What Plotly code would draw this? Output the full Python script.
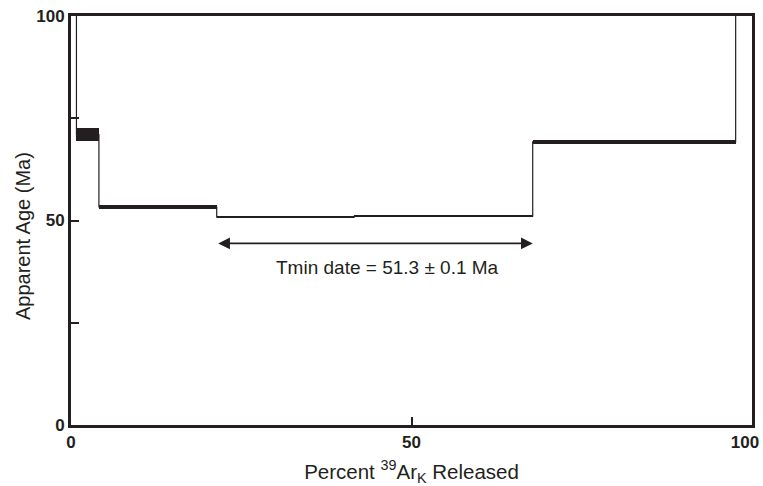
import plotly.graph_objects as go

# Age spectrum data (cumulative % 39ArK released, apparent age, 1-sigma error)
step_start = [0.0, 0.8, 4.1, 21.4, 41.6, 67.8, 97.6]
step_end = [0.8, 4.1, 21.4, 41.6, 67.8, 97.6, 100.0]
ages = [130.0, 71.0, 53.3, 50.8, 51.1, 69.2, 130.0]
errors = [1.0, 1.6, 0.5, 0.25, 0.3, 0.45, 1.0]

x_ticks = [0, 50, 100]
x_ticktext = ["0", "50", "100\u00a0\u00a0\u00a0"]
y_ticks = [0, 25, 50, 75, 100]
y_ticktext = ["0", "", "50", "", "100"]

tmin_from, tmin_to = 21.4, 67.8
tmin_y = 44.4
tmin_label = "Tmin date = 51.3 \u00b1 0.1 Ma"

ink = "#231f20"
font = "Liberation Sans, Arial, Helvetica, sans-serif"

mids = [(a + b) / 2 for a, b in zip(step_start, step_end)]
widths = [b - a for a, b in zip(step_start, step_end)]
bases = [a - e for a, e in zip(ages, errors)]
heights = [2 * e for e in errors]

fig = go.Figure()
# connecting step line
fig.add_trace(go.Scatter(
    x=step_start + [step_end[-1]],
    y=ages + [ages[-1]],
    mode="lines",
    line=dict(shape="hv", color=ink, width=1.2),
    hoverinfo="skip",
    showlegend=False,
))
# error boxes
fig.add_trace(go.Bar(
    x=mids, y=heights, base=bases, width=widths,
    marker=dict(color=ink, line=dict(width=0)),
    showlegend=False,
))

# double-headed arrow
fig.add_annotation(
    x=tmin_to, y=tmin_y, ax=tmin_from, ay=tmin_y,
    xref="x", yref="y", axref="x", ayref="y",
    text="", showarrow=True, arrowhead=2, startarrowhead=2,
    arrowside="end+start", arrowsize=1.3, startarrowsize=1.3,
    arrowwidth=1.8, arrowcolor=ink,
)
fig.add_annotation(
    x=46.5, y=38.6, xref="x", yref="y", text=tmin_label,
    showarrow=False, font=dict(family=font, size=19, color=ink),
)
# y-axis title
fig.add_annotation(
    x=-0.0705, y=0.462, xref="paper", yref="paper", text="Apparent Age (Ma)",
    textangle=-90, showarrow=False, xanchor="center", yanchor="middle",
    font=dict(family=font, size=20, color=ink),
)

fig.update_layout(
    width=763, height=486,
    margin=dict(l=71, r=11, t=16, b=61),
    plot_bgcolor="white", paper_bgcolor="white",
    bargap=0,
    font=dict(family=font, color=ink),
    xaxis=dict(
        range=[0, 100], tickvals=x_ticks, ticktext=x_ticktext,
        ticks="inside", ticklen=8, tickwidth=2,
        tickcolor=ink, showline=True, linewidth=3, linecolor=ink, mirror=True,
        showgrid=False, zeroline=False, automargin=False, ticklabeloverflow="allow",
        tickfont=dict(family=font, size=17, color=ink, weight="bold"),
        title=dict(text="Percent <sup>39</sup>Ar<sub>K</sub> Released",
                   font=dict(family=font, size=20.5, color=ink), standoff=20),
    ),
    yaxis=dict(
        range=[0, 100], tickvals=y_ticks, ticktext=y_ticktext, ticks="inside",
        ticklen=8, tickwidth=2, tickcolor=ink,
        showline=True, linewidth=3, linecolor=ink, mirror=True,
        showgrid=False, zeroline=False, automargin=False, ticklabeloverflow="allow",
        tickfont=dict(family=font, size=17, color=ink, weight="bold"),
    ),
)

fig.write_html("out.html", config={"displayModeBar": False},
               post_script="document.body.style.margin='0';document.body.style.overflow='hidden';")
